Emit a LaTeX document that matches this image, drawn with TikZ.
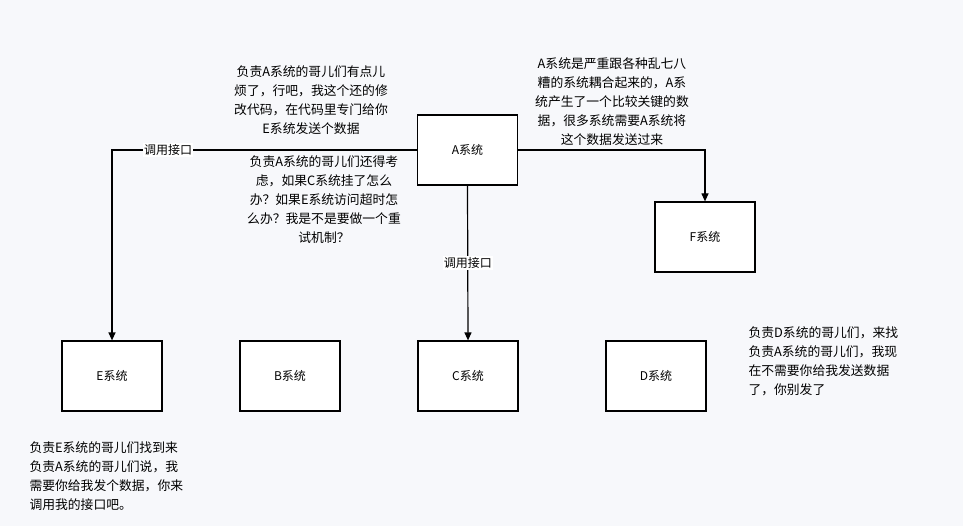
\documentclass[tikz,border=0pt]{standalone}
\usepackage{fontspec}
\setmainfont{Noto Sans CJK SC}
\usetikzlibrary{arrows.meta}
\definecolor{bgcol}{HTML}{F7F8FB}
\tikzset{
  sysbox/.style={draw, line width=1.2pt, fill=white, minimum width=100pt, minimum height=70pt, font=\fontsize{12}{14}\selectfont},
  note/.style={font=\fontsize{12.8}{19}\selectfont, align=center},
  link/.style={line width=1.2pt, -{Triangle[length=8pt,width=7pt]}},
  lbl/.style={fill=white, inner sep=1pt, font=\fontsize{12}{14}\selectfont}
}
\begin{document}
\begin{tikzpicture}[x=1pt,y=-1pt]
\fill[bgcol] (0,0) rectangle (963,526);
\useasboundingbox (0,0) rectangle (963,526);
% systems
\node[sysbox] (A) at (467.5,150) {A系统};
\node[sysbox] (F) at (705,237) {F系统};
\node[sysbox] (E) at (112,376) {E系统};
\node[sysbox] (B) at (290,376) {B系统};
\node[sysbox] (C) at (468,376) {C系统};
\node[sysbox] (D) at (656,376) {D系统};
\coordinate (eturn) at (112,150);
\coordinate (fturn) at (705,150);
% connectors
\draw[link] (A.west) -- (eturn) -- (E.north);
\node[lbl] (ecall) at (168,150) {调用接口};
\draw[link] (A.south) -- (C.north) node[lbl, pos=0.5] (ccall) {调用接口};
\draw[link] (A.east) -- (fturn) -- (F.north);
% notes
\node[note] (n1) at (311,100) {负责A系统的哥儿们有点儿\\烦了，行吧，我这个还的修\\改代码，在代码里专门给你\\E系统发送个数据};
\node[note] (n2) at (324,200) {负责A系统的哥儿们还得考\\虑，如果C系统挂了怎么\\办？如果E系统访问超时怎\\么办？我是不是要做一个重\\试机制？};
\node[note] (n3) at (612,102) {A系统是严重跟各种乱七八\\糟的系统耦合起来的，A系\\统产生了一个比较关键的数\\据，很多系统需要A系统将\\这个数据发送过来};
\node[note, align=left, anchor=west] (n4) at (745,361) {负责D系统的哥儿们，来找\\负责A系统的哥儿们，我现\\在不需要你给我发送数据\\了，你别发了};
\node[note, align=left, anchor=west] (n5) at (26,476) {负责E系统的哥儿们找到来\\负责A系统的哥儿们说，我\\需要你给我发个数据，你来\\调用我的接口吧。};
\end{tikzpicture}
\end{document}
